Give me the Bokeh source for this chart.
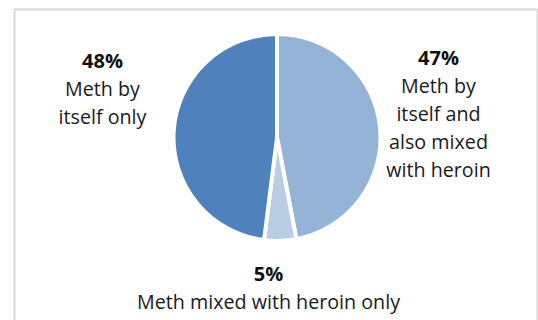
import math
from bokeh.plotting import figure
from bokeh.models import Range1d, ColumnDataSource
from bokeh.core.properties import value
from bokeh.embed import file_html
from bokeh.resources import INLINE

# ---- data ----
categories = ["Meth by itself and also mixed with heroin",
              "Meth mixed with heroin only",
              "Meth by itself only"]
shares = [47, 5, 48]
pct_labels = ["47%", "5%", "48%"]
label_lines = [["Meth by", "itself and", "also mixed", "with heroin"],
               ["Meth mixed with heroin only"],
               ["Meth by", "itself only"]]
colors = ["#95B3D7", "#B9CDE5", "#4F81BD"]

# ---- layout (page pixels) ----
W, H = 538, 320
CX, CY, R = 276.5, H - 137, 103.5
label_x = [438, 268, 102]          # centre x of each label block
pct_page_y = [56.7, 273.3, 60.0]   # page y of the percentage line
LINE = 28.0

p = figure(width=W, height=H, output_backend="svg", toolbar_location=None,
           x_range=Range1d(0, W), y_range=Range1d(0, H), min_border=0)
p.axis.visible = False
p.grid.visible = False
p.outline_line_color = None
p.background_fill_color = "white"
p.border_fill_color = "white"

# chart area border
p.quad(left=14, right=537, bottom=-10, top=H - 9, fill_color=None,
       line_color="#D9D9D9", line_width=2)

# pie wedges (start at 12 o'clock, clockwise)
total = float(sum(shares))
starts, ends = [], []
cum = 0.0
for s in shares:
    starts.append(math.pi / 2 - 2 * math.pi * cum / total)
    cum += s
    ends.append(math.pi / 2 - 2 * math.pi * cum / total)
src = ColumnDataSource(dict(cat=categories, share=shares, start=starts, end=ends, color=colors))
p.wedge(x=CX, y=CY, radius=R, start_angle="start", end_angle="end", direction="clock",
        fill_color="color", line_color="white", line_width=4, source=src)

font = value("Open Sans")
# percentage labels
pct_src = ColumnDataSource(dict(x=label_x, y=[H - v for v in pct_page_y], t=pct_labels))
p.text(x="x", y="y", text="t", source=pct_src, text_font=font, text_font_size="20px",
       text_font_style="bold", text_align="center", text_baseline="middle", text_color="#111111")

# category labels
xs, ys, ts = [], [], []
for lx, py, lines in zip(label_x, pct_page_y, label_lines):
    for i, line in enumerate(lines):
        xs.append(lx)
        ys.append(H - (py + LINE * (i + 1)))
        ts.append(line)
cat_src = ColumnDataSource(dict(x=xs, y=ys, t=ts))
p.text(x="x", y="y", text="t", source=cat_src, text_font=font, text_font_size="19.7px",
       text_align="center", text_baseline="middle", text_color="#1a1a1a")

open("out.html", "w").write(file_html(p, INLINE))
